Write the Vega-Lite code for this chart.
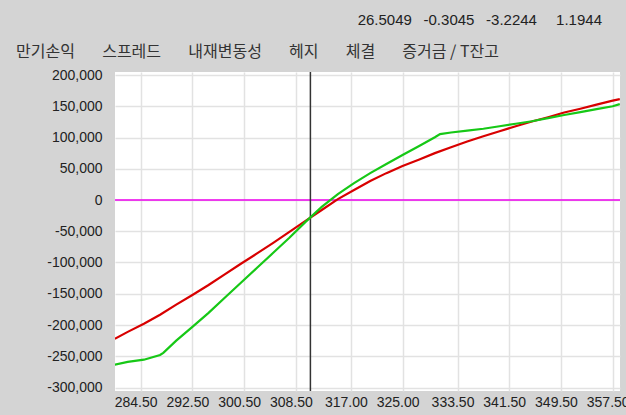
{
  "$schema": "https://vega.github.io/schema/vega-lite/v6.json",
  "width": 505,
  "height": 319,
  "autosize": {"type": "none"},
  "padding": {"left": 115, "top": 72, "right": 6, "bottom": 24},
  "background": "#d4d4d4",
  "title": {
    "text": "26.5049\u2002 -0.3045\u2002 -3.2244\u2003 1.1944",
    "subtitle": "만기손익\u2003\u2002\u2009스프레드\u2003\u2002\u2009내재변동성\u2003\u2002\u2009헤지\u2003\u2002\u2009체결\u2003\u2002\u2009증거금 / T잔고\u3164\u3164\u3164\u3164\u3164\u3164\u3164",
    "anchor": "end",
    "frame": "group",
    "dx": -18,
    "offset": 8,
    "font": "Liberation Sans, sans-serif",
    "fontSize": 15,
    "fontWeight": "normal",
    "color": "#222222",
    "subtitleFont": "Noto Sans CJK KR, sans-serif",
    "subtitleFontSize": 16,
    "subtitleColor": "#333333",
    "subtitlePadding": 16
  },
  "config": {
    "locale": {"number": {"decimal": ".", "thousands": ",", "grouping": [3], "currency": ["", ""], "minus": "-"}},
    "view": {"stroke": null, "fill": "white"},
    "axis": {
      "domain": false,
      "ticks": false,
      "grid": true,
      "gridColor": "#e2e2e2",
      "gridWidth": 1.5,
      "labelFont": "Liberation Sans, sans-serif",
      "labelFontSize": 14,
      "labelColor": "#222222",
      "labelOverlap": false,
      "title": null
    }
  },
  "datasets": {
    "curves": [
      {"s": 280.5, "v": -222000, "k": "이론"},
      {"s": 282.5, "v": -211000, "k": "이론"},
      {"s": 285, "v": -198000, "k": "이론"},
      {"s": 287.5, "v": -183500, "k": "이론"},
      {"s": 290, "v": -167500, "k": "이론"},
      {"s": 292.5, "v": -152000, "k": "이론"},
      {"s": 295, "v": -136000, "k": "이론"},
      {"s": 297.5, "v": -119000, "k": "이론"},
      {"s": 300, "v": -102000, "k": "이론"},
      {"s": 302.5, "v": -85500, "k": "이론"},
      {"s": 305, "v": -68500, "k": "이론"},
      {"s": 307.5, "v": -51000, "k": "이론"},
      {"s": 310, "v": -33500, "k": "이론"},
      {"s": 312.5, "v": -16000, "k": "이론"},
      {"s": 315, "v": 1500, "k": "이론"},
      {"s": 317.5, "v": 16000, "k": "이론"},
      {"s": 320, "v": 30500, "k": "이론"},
      {"s": 322.5, "v": 43000, "k": "이론"},
      {"s": 325, "v": 54500, "k": "이론"},
      {"s": 327.5, "v": 64500, "k": "이론"},
      {"s": 330, "v": 75000, "k": "이론"},
      {"s": 332.5, "v": 84500, "k": "이론"},
      {"s": 335, "v": 93500, "k": "이론"},
      {"s": 337.5, "v": 102000, "k": "이론"},
      {"s": 340, "v": 110000, "k": "이론"},
      {"s": 342.5, "v": 118000, "k": "이론"},
      {"s": 345, "v": 125500, "k": "이론"},
      {"s": 347.5, "v": 132500, "k": "이론"},
      {"s": 350, "v": 140000, "k": "이론"},
      {"s": 352.5, "v": 146000, "k": "이론"},
      {"s": 355, "v": 152500, "k": "이론"},
      {"s": 357.5, "v": 159000, "k": "이론"},
      {"s": 358.6, "v": 161500, "k": "이론"},
      {"s": 280.5, "v": -263500, "k": "만기"},
      {"s": 282.5, "v": -259000, "k": "만기"},
      {"s": 285, "v": -255500, "k": "만기"},
      {"s": 287.5, "v": -248000, "k": "만기"},
      {"s": 288, "v": -244500, "k": "만기"},
      {"s": 290, "v": -225000, "k": "만기"},
      {"s": 292.5, "v": -203000, "k": "만기"},
      {"s": 295, "v": -180500, "k": "만기"},
      {"s": 297.5, "v": -156500, "k": "만기"},
      {"s": 300, "v": -132500, "k": "만기"},
      {"s": 302.5, "v": -108500, "k": "만기"},
      {"s": 305, "v": -84500, "k": "만기"},
      {"s": 307.5, "v": -60500, "k": "만기"},
      {"s": 310, "v": -35000, "k": "만기"},
      {"s": 312.5, "v": -11000, "k": "만기"},
      {"s": 315, "v": 9500, "k": "만기"},
      {"s": 317.5, "v": 27000, "k": "만기"},
      {"s": 320, "v": 43000, "k": "만기"},
      {"s": 322.5, "v": 57500, "k": "만기"},
      {"s": 325, "v": 72000, "k": "만기"},
      {"s": 327.5, "v": 86000, "k": "만기"},
      {"s": 330, "v": 100500, "k": "만기"},
      {"s": 330.8, "v": 105500, "k": "만기"},
      {"s": 332.5, "v": 108000, "k": "만기"},
      {"s": 335, "v": 111000, "k": "만기"},
      {"s": 337.5, "v": 114000, "k": "만기"},
      {"s": 340, "v": 118000, "k": "만기"},
      {"s": 342.5, "v": 122000, "k": "만기"},
      {"s": 345, "v": 126000, "k": "만기"},
      {"s": 347.5, "v": 131000, "k": "만기"},
      {"s": 350, "v": 136000, "k": "만기"},
      {"s": 352.5, "v": 140500, "k": "만기"},
      {"s": 355, "v": 145500, "k": "만기"},
      {"s": 357.5, "v": 150000, "k": "만기"},
      {"s": 358.6, "v": 153500, "k": "만기"}
    ],
    "zero": [{"v": 0}],
    "now": [{"s": 310.75}]
  },
  "layer": [
    {
      "data": {"name": "zero"},
      "mark": {"type": "rule", "color": "#ee00ee", "strokeWidth": 1.5},
      "encoding": {
        "y": {
          "field": "v",
          "type": "quantitative",
          "scale": {"domain": [-305600, 204800], "nice": false, "zero": false},
          "axis": {
            "values": [-300000, -250000, -200000, -150000, -100000, -50000, 0, 50000, 100000, 150000, 200000],
            "format": ",.0f",
            "labelPadding": 13
          }
        }
      }
    },
    {
      "data": {"name": "now"},
      "mark": {"type": "rule", "color": "#333333", "strokeWidth": 1.5},
      "encoding": {
        "x": {
          "field": "s",
          "type": "quantitative",
          "scale": {"domain": [280.53, 358.63], "nice": false, "zero": false},
          "axis": {
            "values": [284.5, 292.5, 300.5, 308.5, 317, 325, 333.5, 341.5, 349.5, 357.5],
            "format": ".2f",
            "labelPadding": 4,
            "labelOffset": -5,
            "labelFlush": false
          }
        }
      }
    },
    {
      "data": {"name": "curves"},
      "mark": {"type": "line", "strokeWidth": 2.2, "clip": true},
      "encoding": {
        "x": {
          "field": "s",
          "type": "quantitative",
          "axis": {
            "values": [284.5, 292.5, 300.5, 308.5, 317, 325, 333.5, 341.5, 349.5, 357.5],
            "format": ".2f",
            "labelPadding": 4,
            "labelOffset": -5,
            "labelFlush": false
          }
        },
        "y": {
          "field": "v",
          "type": "quantitative",
          "axis": {
            "values": [-300000, -250000, -200000, -150000, -100000, -50000, 0, 50000, 100000, 150000, 200000],
            "format": ",.0f",
            "labelPadding": 13
          }
        },
        "color": {
          "field": "k",
          "type": "nominal",
          "scale": {"domain": ["만기", "이론"], "range": ["#16c816", "#d80000"]},
          "legend": null
        }
      }
    }
  ]
}
